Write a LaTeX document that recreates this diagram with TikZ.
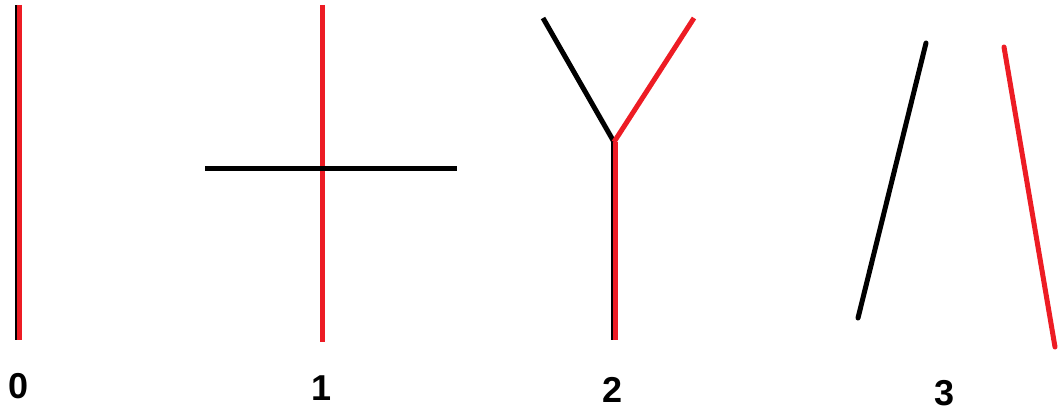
\documentclass[tikz,border=0pt]{standalone}
\usepackage{fontspec}
\setmainfont{Liberation Sans}
\usepackage{xcolor}
\usetikzlibrary{positioning}
\definecolor{LineRed}{RGB}{237,28,36}

\begin{document}
\begin{tikzpicture}[x=1pt, y=-1pt,
    blk/.style={line width=5pt, black},
    rd/.style={line width=5pt, LineRed},
    thinblk/.style={line width=3pt, black},
    num/.style={font=\fontsize{36}{36}\selectfont\bfseries, inner sep=0pt}]
      \useasboundingbox (0,0) rectangle (1059,412);
      % case 0
      \coordinate (a0) at (16,5);   \coordinate (b0) at (16,340);
      \coordinate (c0) at (19.5,5); \coordinate (d0) at (19.5,340);
      \draw[thinblk] (a0)--(b0);
      \draw[rd] (c0)--(d0);
      \node[num] (n0) at (19,386) {0};
      % case 1
      \coordinate (a1) at (322,5);   \coordinate (b1) at (322,342);
      \coordinate (c1) at (205,168); \coordinate (d1) at (457,168);
      \draw[rd] (a1)--(b1);
      \draw[blk] (c1)--(d1);
      \node[num] (n1) at (322,388) {1};
      % case 2
      \coordinate (j2) at (614,142);
      \coordinate (a2) at (543,18);  \coordinate (b2) at (694,18);
      \coordinate (s2) at (612,142); \coordinate (t2) at (612,340);
      \coordinate (u2) at (615.5,142); \coordinate (v2) at (615.5,340);
      \draw[blk] (a2)--(j2);
      \draw[rd] (b2)--(j2);
      \draw[thinblk] (s2)--(t2);
      \draw[rd] (u2)--(v2);
      \node[num] (n2) at (613,390) {2};
      % case 3
      \coordinate (a3) at (926,43);  \coordinate (b3) at (858,318);
      \coordinate (c3) at (1004,47); \coordinate (d3) at (1055,347);
      \draw[blk, line cap=round] (a3)--(b3);
      \draw[rd, line cap=round] (c3)--(d3);
      \node[num] (n3) at (944,393) {3};
    \end{tikzpicture}
\end{document}
